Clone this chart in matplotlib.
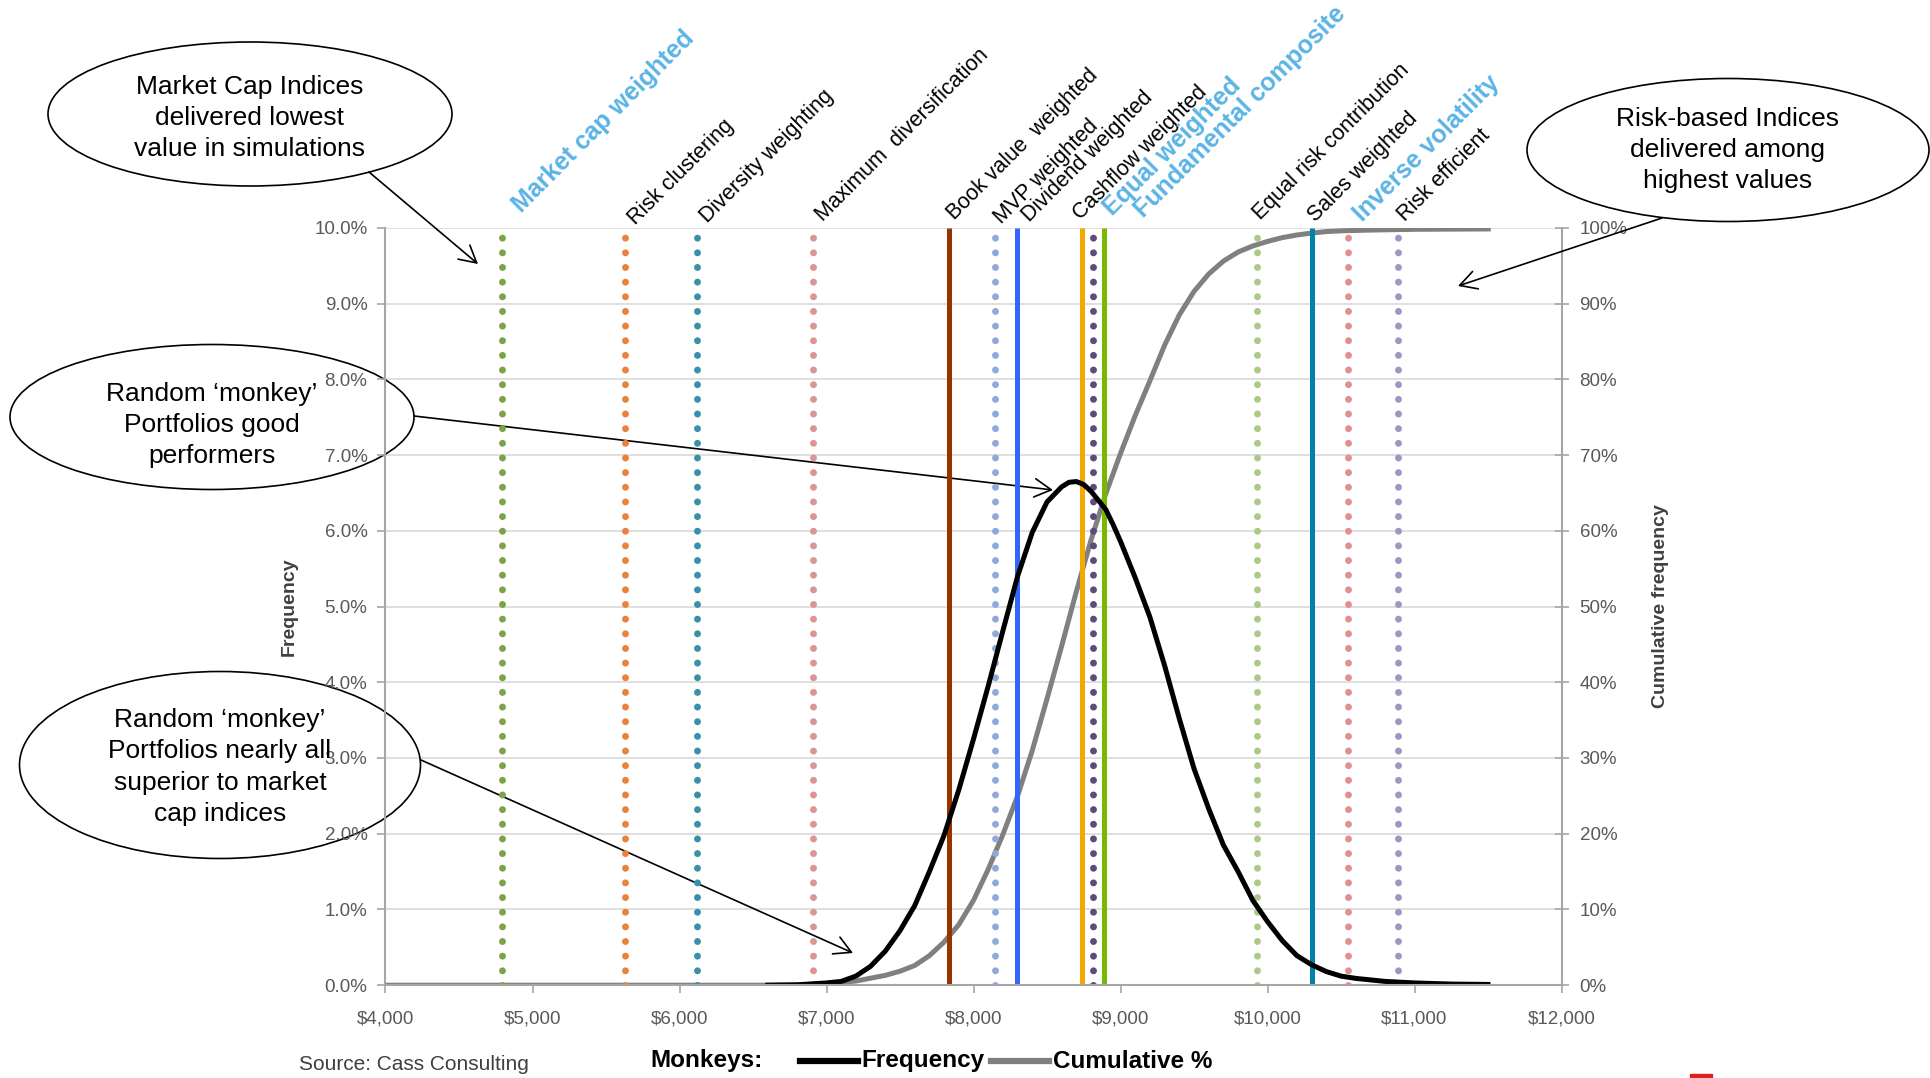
import matplotlib
matplotlib.use('Agg')
import matplotlib.pyplot as plt
from matplotlib.patches import Ellipse, FancyArrowPatch, Rectangle
from matplotlib.lines import Line2D
from matplotlib.ticker import FuncFormatter

plt.rcParams['font.family'] = ['Liberation Sans', 'DejaVu Sans']

# monkey portfolios: frequency (%) of final value ($)
freq_x = [6600, 6800, 7000, 7100, 7200, 7300, 7400, 7500, 7600, 7700, 7800, 7900,
          8000, 8100, 8200, 8300, 8400, 8500, 8600, 8650, 8700, 8750, 8800, 8850,
          8900, 8950, 9000, 9100, 9200, 9300, 9400, 9500, 9600, 9700, 9800, 9900,
          10000, 10100, 10200, 10300, 10400, 10500, 10600, 10800, 11000, 11250, 11500]
freq_y = [0.0, 0.005, 0.03, 0.05, 0.12, 0.25, 0.45, 0.72, 1.05, 1.5, 1.98, 2.58,
          3.25, 3.95, 4.68, 5.40, 5.98, 6.38, 6.58, 6.64, 6.65, 6.61, 6.52, 6.40,
          6.28, 6.08, 5.86, 5.38, 4.86, 4.22, 3.52, 2.86, 2.33, 1.85, 1.50, 1.12,
          0.84, 0.59, 0.39, 0.27, 0.18, 0.12, 0.09, 0.05, 0.03, 0.015, 0.01]

# cumulative frequency (%)
cum_x = [4000, 6600, 6800, 7000, 7200, 7400, 7500, 7600, 7700, 7800, 7900, 8000,
         8100, 8200, 8300, 8400, 8500, 8600, 8700, 8800, 8900, 9000, 9100, 9200,
         9300, 9400, 9500, 9600, 9700, 9800, 9900, 10000, 10100, 10200, 10300,
         10400, 10500, 10700, 11000, 11519]
cum_y = [0.0, 0.0, 0.05, 0.2, 0.55, 1.3, 1.85, 2.6, 3.9, 5.7, 8.0, 11.2,
         15.3, 19.9, 25.0, 31.0, 37.8, 44.8, 52.0, 58.8, 64.9, 70.2, 75.2, 79.8,
         84.5, 88.5, 91.6, 93.9, 95.6, 96.8, 97.6, 98.2, 98.7, 99.05, 99.3,
         99.5, 99.6, 99.7, 99.8, 99.85]

# index results
index_names = ['Market cap weighted', 'Risk clustering', 'Diversity weighting',
               'Maximum  diversification', 'Book value  weighted', 'MVP weighted',
               'Dividend weighted', 'Cashflow weighted', 'Equal weighted',
               'Fundamental composite', 'Equal risk contribution', 'Sales weighted',
               'Inverse volatility', 'Risk efficient']
index_values = [4790, 5630, 6120, 6905, 7830, 8145, 8295, 8740, 8810, 8885,
                9930, 10300, 10550, 10885]

x_ticks = [4000, 5000, 6000, 7000, 8000, 9000, 10000, 11000, 12000]
freq_ticks = [0, 1, 2, 3, 4, 5, 6, 7, 8, 9, 10]
cum_ticks = [0, 10, 20, 30, 40, 50, 60, 70, 80, 90, 100]

# line styles for each index
index_colors = ['#7aa447', '#e8823c', '#3a90a8', '#d99694', '#993300', '#8eaadb',
                '#3366ff', '#f5a800', '#604a7b', '#77b900', '#adc98a', '#0083ab',
                '#e0908e', '#a095c4']
index_solid = [False, False, False, False, True, False, True, True, False, True,
               False, True, False, False]
highlight = ['Market cap weighted', 'Equal weighted', 'Fundamental composite',
             'Inverse volatility']
label_offsets = [(14, 10), (7.5, 1.5), (7.5, 3), (7.5, 4), (4, 5.5), (5, 2.5),
                 (9, 4), (-1, 5.5), (14, 8.5), (29, 7), (2, 5.5), (3, 4),
                 (10, 4), (5, 4)]

W, H = 1931, 1078
fig = plt.figure(figsize=(W / 100, H / 100), dpi=100)
ax = fig.add_axes([385.5 / W, 1 - 985.2 / H, 1176 / W, (985.2 - 227.8) / H])
ax2 = ax.twinx()

grey = '#a6a6a6'
ax2.plot(cum_x, cum_y, color='#808080', lw=3.6, solid_capstyle='butt')
ax2.set_ylim(0, 100)
ax2.set_yticks(cum_ticks)
ax2.yaxis.set_major_formatter(FuncFormatter(lambda v, p: f'{v:.0f}%'))
ax2.yaxis.grid(True, color='#d9d9d9', lw=1.2)
ax2.set_axisbelow(True)
ax2.tick_params(axis='y', direction='inout', length=10, width=1.2, color=grey,
                labelcolor='#595959', labelsize=13.5, pad=8)
for s in ['left', 'top', 'bottom']:
    ax2.spines[s].set_visible(False)
ax2.spines['right'].set_color(grey)
ax2.spines['right'].set_linewidth(1.5)
ax2.set_ylabel('Cumulative frequency', fontsize=14, fontweight='bold', color='#404040')
ax2.yaxis.set_label_coords(1.077, 0.5)

ax.set_zorder(ax2.get_zorder() + 1)
ax.patch.set_visible(False)

for name, val, col, solid, off in zip(index_names, index_values, index_colors,
                                      index_solid, label_offsets):
    if solid:
        ax.axvline(val, color=col, lw=3.6, solid_capstyle='butt')
    else:
        ax.axvline(val, color=col, lw=5, linestyle=(0, (0.01, 2.1)),
                   dash_capstyle='round')
    if name in highlight:
        kw = dict(fontsize=18, fontweight='bold', color='#5ab4e5')
    else:
        kw = dict(fontsize=15.5, color='black')
    ax.annotate(name, xy=(val, 1.0), xycoords=('data', 'axes fraction'),
                xytext=off, textcoords='offset points', rotation=45,
                rotation_mode='anchor', ha='left', va='baseline',
                annotation_clip=False, **kw)

ax.plot(freq_x, freq_y, color='black', lw=3.6)

ax.set_xlim(4000, 12000)
ax.set_ylim(0, 10)
ax.set_xticks(x_ticks)
ax.set_yticks(freq_ticks)
ax.xaxis.set_major_formatter(FuncFormatter(lambda v, p: f'${v:,.0f}'))
ax.yaxis.set_major_formatter(FuncFormatter(lambda v, p: f'{v:.1f}%'))
ax.tick_params(axis='both', direction='out', length=6, width=1.2, color=grey,
               labelcolor='#595959', labelsize=13.5)
ax.tick_params(axis='y', pad=7)
ax.tick_params(axis='x', pad=12)
for s in ['top', 'right']:
    ax.spines[s].set_visible(False)
for s in ['left', 'bottom']:
    ax.spines[s].set_color(grey)
    ax.spines[s].set_linewidth(1.5)
ax.set_ylabel('Frequency', fontsize=14, fontweight='bold', color='#404040')
ax.yaxis.set_label_coords(-0.075, 0.5)


def fx(x):
    return x / W


def fy(y):
    return 1 - y / H


# callouts
callouts = [
    ('Market Cap Indices\ndelivered lowest\nvalue in simulations', (250, 114), (404, 144), (250, 118)),
    ('Risk-based Indices\ndelivered among\nhighest values', (1728, 150), (402, 143), (1728, 150)),
    ('Random \u2018monkey\u2019\nPortfolios good\nperformers', (212, 417), (404, 145), (212, 425)),
    ('Random \u2018monkey\u2019\nPortfolios nearly all\nsuperior to market\ncap indices', (220, 765), (401, 187), (220, 767)),
]
for text, c, size, tc in callouts:
    fig.add_artist(Ellipse((fx(c[0]), fy(c[1])), size[0] / W, size[1] / H,
                           transform=fig.transFigure, fill=False, ec='black', lw=1.2))
    fig.text(fx(tc[0]), fy(tc[1]), text, ha='center', va='center', fontsize=19,
             linespacing=1.38)

arrows = [((369, 172), (478, 264)), ((1662, 218), (1458, 286)),
          ((414, 416), (1053, 490)), ((421, 760), (853, 953))]
for a, b in arrows:
    fig.add_artist(FancyArrowPatch((fx(a[0]), fy(a[1])), (fx(b[0]), fy(b[1])),
                                   transform=fig.transFigure,
                                   arrowstyle='->,head_length=0.6,head_width=0.33',
                                   mutation_scale=20, color='black', lw=1.2,
                                   shrinkA=0, shrinkB=0))

# footer
fig.text(fx(299), fy(1065), 'Source: Cass Consulting', fontsize=15, color='#404040',
         ha='left', va='center')
fig.text(fx(650), fy(1061), 'Monkeys:', fontsize=17.5, fontweight='bold', ha='left', va='center')
fig.add_artist(Line2D([fx(800), fx(858)], [fy(1061), fy(1061)], color='black', lw=4.5,
                      transform=fig.transFigure))
fig.text(fx(861), fy(1061), 'Frequency', fontsize=17.5, fontweight='bold', ha='left', va='center')
fig.add_artist(Line2D([fx(991), fx(1049)], [fy(1061), fy(1061)], color='#808080', lw=4.5,
                      transform=fig.transFigure))
fig.text(fx(1053), fy(1061), 'Cumulative %', fontsize=17.5, fontweight='bold', ha='left', va='center')
fig.add_artist(Rectangle((fx(1690), 0), 22 / W, 4 / H, color='#e02020',
                         transform=fig.transFigure))

fig.savefig('out.png', dpi=100)
